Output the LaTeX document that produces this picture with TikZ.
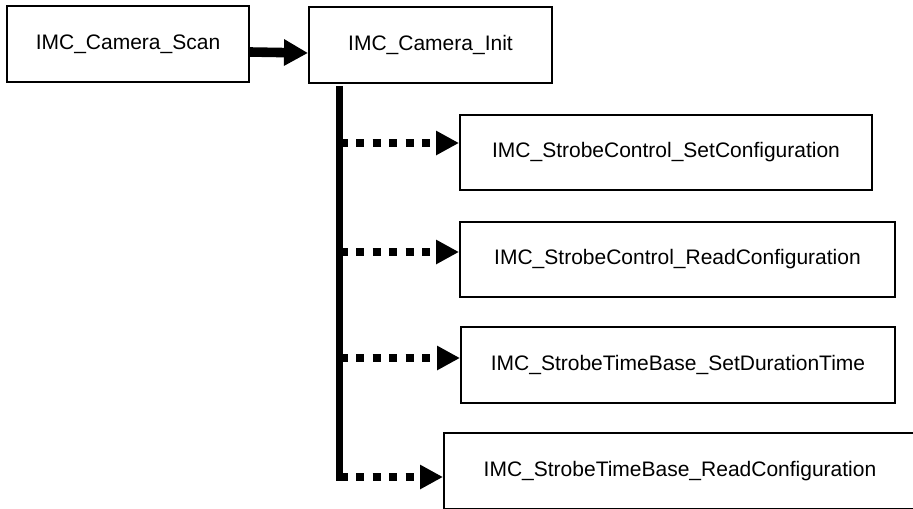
\documentclass[tikz,border=0pt]{standalone}
\usepackage{fontspec}
\setmainfont{Liberation Sans}
\usetikzlibrary{arrows.meta,calc}
\begin{document}
\begin{tikzpicture}[x=0.5pt,y=-0.5pt,
  fbox/.style={draw=black,line width=1pt,fill=white,inner sep=0pt,
    font=\fontsize{10.5}{12}\selectfont,anchor=center},
  plaintext/.style={inner sep=0pt,font=\fontsize{10.5}{12}\selectfont,anchor=center},
  bigarrow/.style={line width=4.8pt,-{Triangle[length=12pt,width=12.5pt]}},
  trunkline/.style={line width=3.5pt},
  dotarrow/.style={line width=3.8pt,dash pattern=on 4pt off 4.25pt,
    -{Triangle[length=11.5pt,width=11.5pt]}}]
\useasboundingbox (0,0) rectangle (913,508);
\clip (0,0) rectangle (913,508);
\fill[white] (0,0) rectangle (913,508);
\node[fbox,minimum width=121pt,minimum height=38pt] (scan) at (128,44) {IMC\_Camera\_Scan};
\node[fbox,minimum width=121.5pt,minimum height=38pt] (init) at (430.5,45) {IMC\_Camera\_Init};
\node[fbox,minimum width=206pt,minimum height=37.5pt] (b1) at (666,152.5) {IMC\_StrobeControl\_SetConfiguration};
\node[fbox,minimum width=217.5pt,minimum height=37.5pt] (b2) at (677.5,259.5) {IMC\_StrobeControl\_ReadConfiguration};
\node[fbox,minimum width=217pt,minimum height=38pt] (b3) at (678,365) {IMC\_StrobeTimeBase\_SetDurationTime};
\node[fbox,minimum width=250pt,minimum height=38pt] (b4) at (694,471) {};
\node[plaintext] (b4text) at (680,471) {IMC\_StrobeTimeBase\_ReadConfiguration};
% main arrow
\draw[bigarrow] ([yshift=-4pt]scan.east) -- ([yshift=-4pt]init.west);
% trunk
\coordinate (top) at (339.5,86);
\coordinate (bottom) at (339.5,480.5);
\draw[trunkline] (top) -- (bottom);
% dotted arrows
\coordinate (t1) at ($(b1.west)+(0,-9.5)$);
\coordinate (t2) at ($(b2.west)+(0,-7.5)$);
\coordinate (t3) at ($(b3.west)+(0,-7)$);
\coordinate (t4) at ($(b4.west)+(0,6)$);
\draw[dotarrow] (top |- t1) -- (t1);
\draw[dotarrow] (top |- t2) -- (t2);
\draw[dotarrow] (top |- t3) -- (t3);
\draw[dotarrow] (top |- t4) -- (t4);
\end{tikzpicture}
\end{document}
